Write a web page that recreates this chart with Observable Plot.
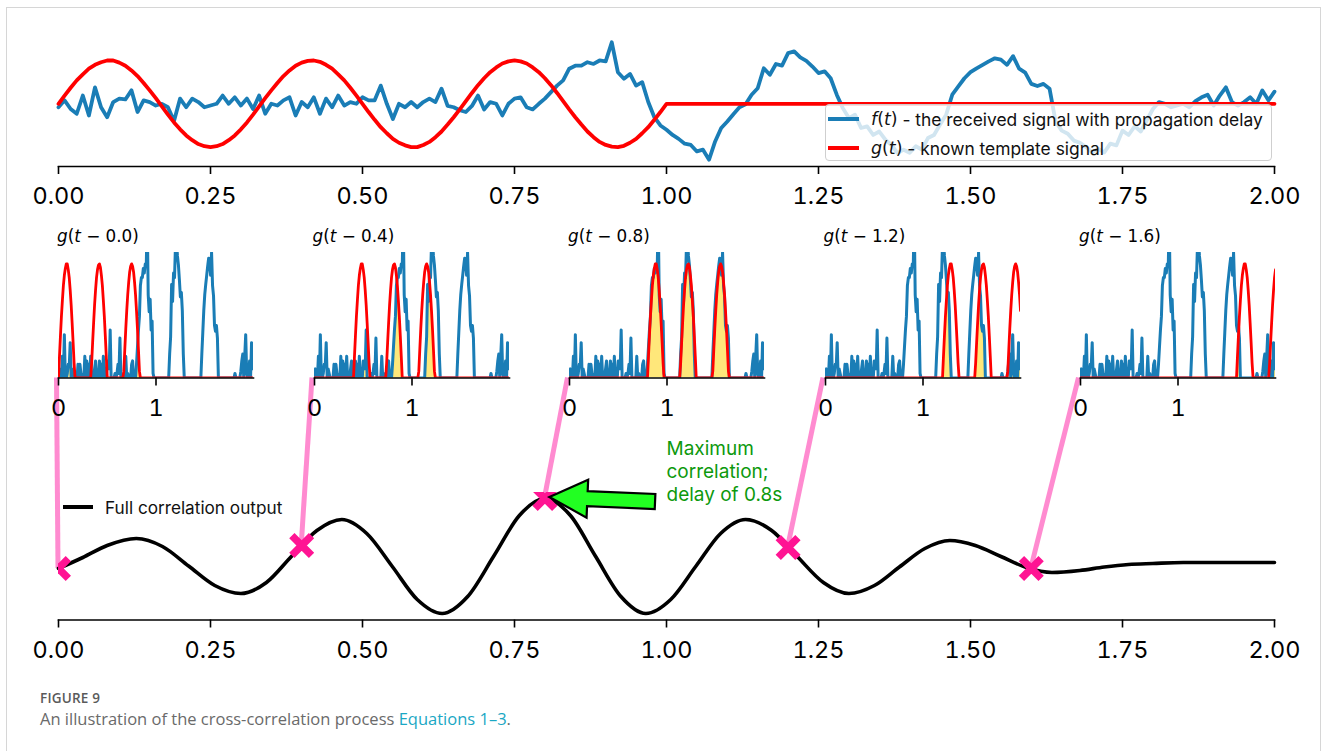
<!DOCTYPE html>
<html><head><meta charset="utf-8">
<script src="https://cdn.jsdelivr.net/npm/d3@7"></script>
<script src="https://cdn.jsdelivr.net/npm/@observablehq/plot@0.6"></script>
<style>
  html,body{margin:0;padding:0;background:#fff;}
  #fig{position:relative;width:1330px;height:751px;overflow:hidden;font-family:Inter,"Noto Sans",sans-serif;}
  .abs{position:absolute;}
  .border{position:absolute;left:6px;top:7px;width:1315px;height:900px;border:1px solid #d6d6d6;box-sizing:border-box;}
  .math{font-family:"DejaVu Sans",sans-serif;}
  .math i{font-style:italic;}
  .ptitle{position:absolute;font-family:"DejaVu Sans",sans-serif;font-size:16.8px;color:#000;line-height:20px;white-space:nowrap;}
  .leg{position:absolute;left:825px;top:104px;width:447px;height:57px;background:rgba(255,255,255,0.8);border:1px solid #cfcfcf;border-radius:4px;box-sizing:border-box;}
  .legrow{position:absolute;left:0;height:24px;display:flex;align-items:center;white-space:nowrap;font-size:17.4px;color:#111;}
  .legline{display:inline-block;width:31px;height:3.8px;margin-left:2px;margin-right:12px;}
  .cap1{position:absolute;left:40px;top:689px;font-family:"Open Sans",sans-serif;font-size:13.5px;font-weight:600;color:#5a5a5a;letter-spacing:0.2px;}
  .cap2{position:absolute;left:40px;top:707px;font-family:"Open Sans",sans-serif;font-size:16.5px;color:#6a6a6a;white-space:nowrap;}
  .cap2 span{color:#1aa7c4;}
</style>
</head><body>
<div id="fig"><div class="border"></div></div>
<script>
// ---------------- data ----------------
const STEP = 0.01; // sampling step of the signals (s)
// f(t): received signal, t = 0 .. 2.00
const fValues = [
 -0.08, 0.08,-0.12,-0.23, 0.19,-0.27, 0.38,-0.08,-0.31, 0.04,
  0.12, 0.10, 0.31,-0.19, 0.08, 0.04,-0.04, 0.00,-0.08,-0.40,
  0.12,-0.08, 0.12, 0.04,-0.08,-0.04, 0.00, 0.19, 0.00, 0.15,
 -0.04, 0.12,-0.12, 0.19,-0.23, 0.00,-0.04, 0.08, 0.15,-0.27,
  0.04,-0.08, 0.15,-0.23, 0.12,-0.08, 0.19,-0.04, 0.04, 0.00,
  0.15, 0.08, 0.08, 0.42, 0.00,-0.35, 0.00,-0.08, 0.04,-0.08,
  0.04, 0.12, 0.04, 0.35,-0.05,-0.08,-0.15,-0.19,-0.05, 0.19,
 -0.13, 0.04, 0.00,-0.27, 0.00, 0.12, 0.15,-0.08,-0.13, 0.00,
  0.12, 0.27, 0.42, 0.54, 0.81, 0.88, 0.88, 0.96, 0.92, 1.00,
  0.98, 1.42, 0.73, 0.58, 0.69, 0.42, 0.50, 0.04,-0.31,-0.50,
 -0.60,-0.72,-0.81,-0.92,-0.95,-1.10,-1.06,-1.29,-0.87,-0.56,
 -0.41,-0.24,-0.08,-0.01, 0.21, 0.36, 0.82, 0.67, 0.92, 0.88,
  1.17, 1.21, 1.07, 0.99, 0.86, 0.71, 0.75, 0.59, 0.21,-0.10,
 -0.33,-0.25,-0.56,-0.52,-0.72,-0.64,-0.83,-0.95,-1.14,-1.06,
 -1.13,-0.98,-1.06,-0.79,-0.72,-0.48,-0.25, 0.21, 0.40, 0.59,
  0.73, 0.82, 0.90, 0.98, 1.05, 1.02, 0.90, 1.10, 0.81, 0.72,
  0.46, 0.41, 0.46, 0.35,-0.41,-0.62,-0.69,-0.85,-0.90,-1.00,
 -1.12,-1.04,-1.12,-0.92,-0.96,-0.62,-0.72,-0.52,-0.64,-0.38,
 -0.12, 0.04, 0.00,-0.08,-0.04, 0.00,-0.08, 0.06, 0.15, 0.21,
 -0.04, 0.19, 0.38, 0.04,-0.04, 0.04, 0.15, 0.00, 0.31, 0.08,
  0.28
];
// g(t): known template, t = 0 .. 1.00 (zero afterwards)
const gValues = [
  0.00, 0.19, 0.37, 0.54, 0.68, 0.81, 0.90, 0.96, 1.00, 1.00,
  0.95, 0.88, 0.77, 0.64, 0.48, 0.31, 0.13,-0.06,-0.25,-0.43,
 -0.59,-0.73,-0.84,-0.93,-0.98,-1.00,-0.98,-0.93,-0.84,-0.73,
 -0.59,-0.43,-0.25,-0.06, 0.13, 0.31, 0.48, 0.64, 0.77, 0.88,
  0.95, 0.99, 1.00, 0.97, 0.90, 0.81, 0.68, 0.54, 0.37, 0.19,
  0.00,-0.19,-0.37,-0.54,-0.68,-0.81,-0.90,-0.96,-1.00,-1.00,
 -0.95,-0.88,-0.77,-0.64,-0.48,-0.31,-0.13, 0.06, 0.25, 0.43,
  0.59, 0.73, 0.84, 0.93, 0.98, 1.00, 0.98, 0.93, 0.84, 0.73,
  0.59, 0.43, 0.25, 0.06,-0.13,-0.31,-0.48,-0.64,-0.77,-0.88,
 -0.95,-0.99,-1.00,-0.97,-0.90,-0.81,-0.68,-0.54,-0.37,-0.19,
  0.00
];
// full correlation output (arbitrary units)
const corrTimes = [0.000,0.040,0.080,0.128,0.171,0.214,0.257,0.300,0.342,0.383,0.425,0.466,0.507,0.549,0.590,0.631,0.673,0.716,0.758,0.800,0.842,0.883,0.925,0.966,1.007,1.048,1.089,1.130,1.173,1.215,1.258,1.300,1.342,1.383,1.425,1.466,1.508,1.550,1.592,1.634,1.680,1.720,1.760,1.800,1.850,1.900,2.000];
const corrValues = [0.45,0.56,0.68,0.75,0.67,0.475,0.28,0.20,0.31,0.57,0.83,0.94,0.80,0.47,0.14,0.00,0.17,0.575,0.98,1.15,0.98,0.575,0.17,0.00,0.14,0.47,0.80,0.94,0.83,0.57,0.31,0.20,0.28,0.465,0.65,0.73,0.68,0.57,0.46,0.41,0.43,0.465,0.49,0.50,0.51,0.51,0.51];
// delays shown in the small panels and their correlation values
const delays = [0.0, 0.4, 0.8, 1.2, 1.6];
const delayCorr = [0.45, 0.68, 1.15, 0.66, 0.45];
const delayLabels = ["0.0", "0.4", "0.8", "1.2", "1.6"];
const xTicks = [0, 0.25, 0.5, 0.75, 1, 1.25, 1.5, 1.75, 2];
const smallTicks = [0, 1];
const legendTop = ["the received signal with propagation delay", "known template signal"];
const legendBottom = "Full correlation output";
const annotation = "Maximum\ncorrelation;\ndelay of 0.8s";

// ---------------- helpers ----------------
const BLUE = "#1a7db6", RED = "#ff0000", PINK_LINE = "#ff8bd0", PINK_MARK = "#ff1493", YELLOW = "#ffe77a", GREEN = "#0d990d";
const W = 1330, X0 = 58, X1 = 1274;
const TICK_FS = 23.5;
const fig = document.getElementById("fig");
function place(node, left, top, width) {
  const d = document.createElement("div");
  d.className = "abs"; d.style.left = left + "px"; d.style.top = top + "px";
  if (width) d.style.width = width + "px";
  d.appendChild(node); fig.appendChild(d); return d;
}
const gAt = (k) => (k >= 0 && k < gValues.length ? gValues[k] : 0);
const fRows = fValues.map((v, i) => ({t: +(i * STEP).toFixed(3), v}));
const gRows = fValues.map((_, i) => ({t: +(i * STEP).toFixed(3), v: gAt(i)}));
const corrRows = corrTimes.map((t, i) => ({t, v: corrValues[i]}));
const markRows = delays.map((d, i) => ({t: d, v: delayCorr[i]}));
const baseStyle = {background: "transparent", overflow: "visible", fontFamily: "Inter, 'Noto Sans', sans-serif", color: "#000"};

// small-panel layout
const SP_W = 195, SP_GAP = 255.5, SP_X0 = 58, SP_TOP = 252, SP_BASE = 377.5;

// ---------------- bottom: correlation output ----------------
const B_TOP = 492, B_BOT = 619.5, B_H = 675;
const bottom = Plot.plot({
  width: W, height: B_H, marginLeft: X0, marginRight: W - X1, marginTop: B_TOP, marginBottom: B_H - B_BOT,
  x: {domain: [0, 2], label: null, axis: null},
  y: {domain: [-0.065, 1.21], axis: null},
  style: baseStyle,
  marks: [
    (index, scales) => {
      const g = d3.create("svg:g");
      delays.forEach((d, i) => {
        g.append("line")
          .attr("x1", SP_X0 + i * SP_GAP - 1.5).attr("y1", SP_BASE)
          .attr("x2", scales.x(d)).attr("y2", scales.y(delayCorr[i]))
          .attr("stroke", PINK_LINE).attr("stroke-width", 5);
      });
      return g.node();
    },
    Plot.line(corrRows, {x: "t", y: "v", stroke: "#000", strokeWidth: 3.6, curve: "monotone-x"}),
    Plot.dot(markRows, {x: "t", y: "v", symbol: "times", r: 9, stroke: PINK_MARK, strokeWidth: 7.5, clip: true}),
    (index, scales) => {
      const tx = scales.x(delays[2]) + 5, ty = scales.y(delayCorr[2]) - 1;
      const ex = scales.x(0.982), ey = scales.y(delayCorr[2] - 0.035);
      const dx = ex - tx, dy = ey - ty, L = Math.hypot(dx, dy);
      const ux = dx / L, uy = dy / L, px = -uy, py = ux;
      const hl = 38, hw = 19, tw = 7.5;
      const P = (a, b) => [tx + ux * a + px * b, ty + uy * a + py * b];
      const pts = [P(0, 0), P(hl, -hw), P(hl, -tw), P(L, -tw), P(L, tw), P(hl, tw), P(hl, hw)];
      return d3.create("svg:path").attr("d", "M" + pts.map(p => p.join(",")).join("L") + "Z")
        .attr("fill", "#22ff22").attr("stroke", "#000").attr("stroke-width", 2.2).attr("stroke-linejoin", "miter").node();
    },
    Plot.text([annotation], {x: 1.0, y: 1.43, text: d => d, textAnchor: "start", lineAnchor: "middle", lineHeight: 1.22, fontSize: 19, fill: GREEN}),
    Plot.frame({anchor: "bottom", stroke: "#000", strokeWidth: 1.6}),
    Plot.axisX({ticks: xTicks, tickFormat: d3.format(".2f"), tickSize: 8, tickPadding: 13, fontSize: TICK_FS, label: null, strokeWidth: 1.6})
  ]
});
place(bottom, 0, 0, W);

// ---------------- top: f(t) and g(t) ----------------
const T_TOP = 36, T_BOT = 166, T_H = 215;
const topPlot = Plot.plot({
  width: W, height: T_H, marginLeft: X0, marginRight: W - X1, marginTop: T_TOP, marginBottom: T_H - T_BOT,
  x: {domain: [0, 2], label: null, axis: null},
  y: {domain: [-1.448, 1.554], axis: null},
  style: baseStyle,
  marks: [
    Plot.line(fRows, {x: "t", y: "v", stroke: BLUE, strokeWidth: 3.8, strokeLinejoin: "round"}),
    Plot.line(gRows, {x: "t", y: "v", stroke: RED, strokeWidth: 3.8}),
    Plot.frame({anchor: "bottom", stroke: "#000", strokeWidth: 1.6}),
    Plot.axisX({ticks: xTicks, tickFormat: d3.format(".2f"), tickSize: 8, tickPadding: 13, fontSize: TICK_FS, label: null, strokeWidth: 1.6})
  ]
});
place(topPlot, 0, 0, W);

// legend of the top panel
const leg = document.createElement("div"); leg.className = "leg";
[["f", BLUE, legendTop[0], 2], ["g", RED, legendTop[1], 31]].forEach(([sym, col, txt, top]) => {
  const r = document.createElement("div"); r.className = "legrow"; r.style.top = top + "px";
  r.innerHTML = `<span class="legline" style="background:${col}"></span><span class="math"><i>${sym}</i>(<i>t</i>)</span>&nbsp;- ${txt}`;
  leg.appendChild(r);
});
fig.appendChild(leg);

// ---------------- small panels g(t - d) ----------------
delays.forEach((d, k) => {
  const shift = Math.round(d / STEP);
  const rows = fValues.map((f, i) => {
    const fp = Math.max(f, 0), gp = Math.max(gAt(i - shift), 0);
    return {t: +(i * STEP).toFixed(3), fp, gp, ov: Math.min(fp, gp)};
  });
  const ML = 20, MR = 20, TOPY = 215;
  const H = 445 - TOPY;
  const p = Plot.plot({
    width: SP_W + ML + MR, height: H, marginLeft: ML, marginRight: MR,
    marginTop: SP_TOP - TOPY, marginBottom: H - (SP_BASE - TOPY),
    x: {domain: [0, 2], label: null, axis: null},
    y: {domain: [0, 1.1], axis: null},
    style: baseStyle,
    marks: [
      Plot.areaY(rows, {x: "t", y1: 0, y2: "ov", fill: YELLOW, clip: true}),
      Plot.line(rows, {x: "t", y: "fp", stroke: BLUE, strokeWidth: 3, clip: true}),
      Plot.line(rows, {x: "t", y: "gp", stroke: RED, strokeWidth: 2.8, clip: true}),
      Plot.frame({anchor: "bottom", stroke: "#000", strokeWidth: 1.6}),
      Plot.axisX({ticks: smallTicks, tickFormat: d3.format("d"), tickSize: 8, tickPadding: 13, fontSize: TICK_FS, label: null, strokeWidth: 1.6})
    ]
  });
  const ox = SP_X0 + k * SP_GAP;
  place(p, ox - ML, TOPY, SP_W + ML + MR);
  const t = document.createElement("div"); t.className = "ptitle";
  t.style.left = (ox - 1) + "px"; t.style.top = "226px";
  t.innerHTML = `<i>g</i>(<i>t</i> − ${delayLabels[k]})`;
  fig.appendChild(t);
});

// legend of the bottom panel
const lb = document.createElement("div"); lb.className = "legrow";
lb.style.left = "61px"; lb.style.top = "495px"; lb.style.fontSize = "17.2px";
lb.innerHTML = `<span class="legline" style="background:#000;width:30px;height:3.8px"></span>${legendBottom}`;
fig.appendChild(lb);

// caption
const c1 = document.createElement("div"); c1.className = "cap1"; c1.textContent = "FIGURE 9"; fig.appendChild(c1);
const c2 = document.createElement("div"); c2.className = "cap2";
c2.innerHTML = `An illustration of the cross-correlation process <span>Equations 1–3</span>.`;
fig.appendChild(c2);
</script>
</body></html>
